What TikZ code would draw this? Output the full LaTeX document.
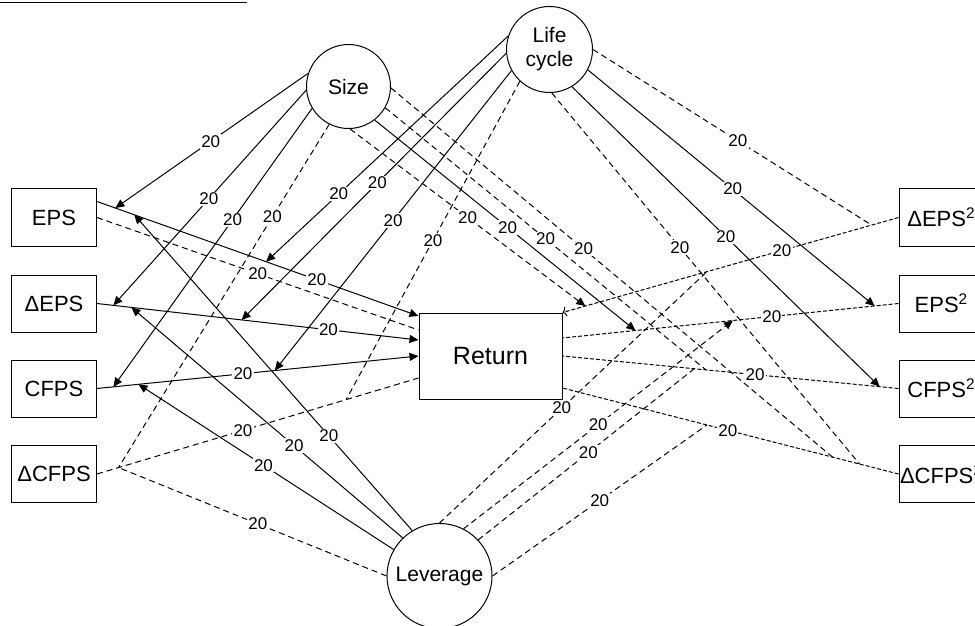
\documentclass[tikz,border=0pt]{standalone}
\usepackage{fontspec}
\setmainfont{Liberation Sans}
\usetikzlibrary{arrows.meta}

\begin{document}
\begin{tikzpicture}[x=0.5pt,y=-0.5pt,line width=0.5pt,
  varbox/.style={draw,minimum width=42.5pt,minimum height=28.5pt,inner sep=0pt,font=\fontsize{11}{13}\selectfont},
  modcirc/.style={draw,circle,inner sep=0pt,align=center,font=\fontsize{10.5}{12}\selectfont},
  lbl/.style={fill=white,inner sep=0.6pt,font=\fontsize{8.5}{10}\selectfont},
  eff/.style={-{Triangle[length=4.5pt,width=4pt]}},
  ns/.style={dash pattern=on 3pt off 2pt},
  fine/.style={dash pattern=on 2pt off 1pt}]

\useasboundingbox (0,0) rectangle (975,626);
\draw (0,2.5) -- (247,2.5);

% variables
\node[varbox] (eps) at (54,217.5) {EPS};
\node[varbox] (deps) at (54,303.5) {ΔEPS};
\node[varbox] (cfps) at (54,388.5) {CFPS};
\node[varbox] (dcfps) at (54,474) {ΔCFPS};
\node[varbox] (deps2) at (941.5,217.5) {ΔEPS\textsuperscript{2}};
\node[varbox] (eps2) at (941.5,303.5) {EPS\textsuperscript{2}};
\node[varbox] (cfps2) at (941.5,388.5) {CFPS\textsuperscript{2}};
\node[varbox] (dcfps2) at (941.5,474) {ΔCFPS\textsuperscript{2}};
\node[draw,minimum width=71.5pt,minimum height=43pt,font=\fontsize{12.5}{14}\selectfont] (ret) at (490.5,356) {Return};

% moderators
\node[modcirc,minimum size=42pt] (size) at (348.5,86.5) {Size};
\node[modcirc,minimum size=43pt] (life) at (549.5,49.5) {Life\\cycle};
\node[modcirc,minimum size=52.5pt] (lev) at (439.5,576) {Leverage};

% paths into Return
\draw[eff] ([yshift=8pt]eps.east) -- node[lbl,pos=0.684]{20}
  coordinate[pos=0.057] (p1s) coordinate[pos=0.116] (p1v) coordinate[pos=0.526] (p1l) ([yshift=20pt]ret.west);
\draw[ns] (eps.east) -- node[lbl,pos=0.5]{20} ([yshift=13pt]ret.west);
\draw[eff] (deps.east) -- node[lbl,pos=0.72]{20}
  coordinate[pos=0.051] (p2s) coordinate[pos=0.107] (p2v) coordinate[pos=0.45] (p2l) ([yshift=8pt]ret.west);
\draw[eff] (cfps.east) -- node[lbl,pos=0.454]{20}
  coordinate[pos=0.051] (p3s) coordinate[pos=0.129] (p3v) coordinate[pos=0.553] (p3l) (ret.west);
\draw[ns] (dcfps.east) -- node[lbl,pos=0.454]{20}
  coordinate[pos=0.067] (p4s) coordinate[pos=0.775] (p4l) ([yshift=-11pt]ret.west);

\draw[fine,-{To[length=2pt,width=5pt]}] (deps2.west) -- node[lbl,pos=0.347]{20}
  coordinate[pos=0.08] (q1l) coordinate[pos=0.57] (q1v) coordinate[pos=0.932] (q1s) (ret.north east);
\draw[fine] (eps2.west) -- node[lbl,pos=0.377]{20}
  coordinate[pos=0.071] (q2l) coordinate[pos=0.493] (q2v) coordinate[pos=0.783] (q2s) ([yshift=9pt]ret.east);
\draw[fine] (cfps2.west) -- node[lbl,pos=0.427]{20}
  coordinate[pos=0.056] (q3l) coordinate[pos=0.573] (q3s) coordinate[pos=0.608] (q3v) (ret.east);
\draw[fine] (dcfps2.west) -- node[lbl,pos=0.508]{20}
  coordinate[pos=0.116] (q4l) coordinate[pos=0.196] (q4s) coordinate[pos=0.57] (q4v) ([yshift=-16pt]ret.east);

% Size
\draw[eff] (size.162) -- node[lbl,pos=0.505]{20} (p1s);
\draw[eff] (size.185) -- node[lbl,pos=0.505]{20} (p2s);
\draw[eff] (size.211) -- node[lbl,pos=0.4]{20} (p3s);
\draw[ns] (size.243) -- node[lbl,pos=0.27]{20} (p4s);
\draw[ns,eff] (size.272) -- node[lbl,pos=0.5]{20} (q1s);
\draw[eff] (size.308) -- node[lbl,pos=0.51]{20} (q2s);
\draw[ns] (size.330) -- node[lbl,pos=0.5]{20} (q3s);
\draw[ns] (size.358) -- node[lbl,pos=0.436]{20} (q4s);

% Life cycle
\draw[eff] (life.162) -- node[lbl,pos=0.7]{20} (p1l);
\draw[eff] (life.185) -- node[lbl,pos=0.487]{20} (p2l);
\draw[eff] (life.209) -- node[lbl,pos=0.5]{20} (p3l);
\draw[ns] (life.227) -- node[lbl,pos=0.5]{20} (p4l);
\draw[ns] (life.0) -- node[lbl,pos=0.52]{20} (q1l);
\draw[eff] (life.332) -- node[lbl,pos=0.505]{20} (q2l);
\draw[eff] (life.301) -- node[lbl,pos=0.5]{20} (q3l);
\draw[ns] (life.273) -- node[lbl,pos=0.416]{20} (q4l);

% Leverage
\draw[eff] (lev.121) -- node[lbl,pos=0.3]{20} (p1v);
\draw[eff] (lev.134) -- node[lbl,pos=0.4]{20} (p2v);
\draw[eff] (lev.150) -- node[lbl,pos=0.51]{20} (p3v);
\draw[ns] (lev.180) -- node[lbl,pos=0.48]{20} (p4s);
\draw[ns] (lev.90) -- node[lbl,pos=0.457]{20} (q1v);
\draw[ns,eff] (lev.63) -- node[lbl,pos=0.5]{20} (q2v);
\draw[ns] (lev.43) -- node[lbl,pos=0.51]{20} (q3v);
\draw[ns] (lev.0) -- node[lbl,pos=0.5]{20} (q4v);
\end{tikzpicture}
\end{document}
